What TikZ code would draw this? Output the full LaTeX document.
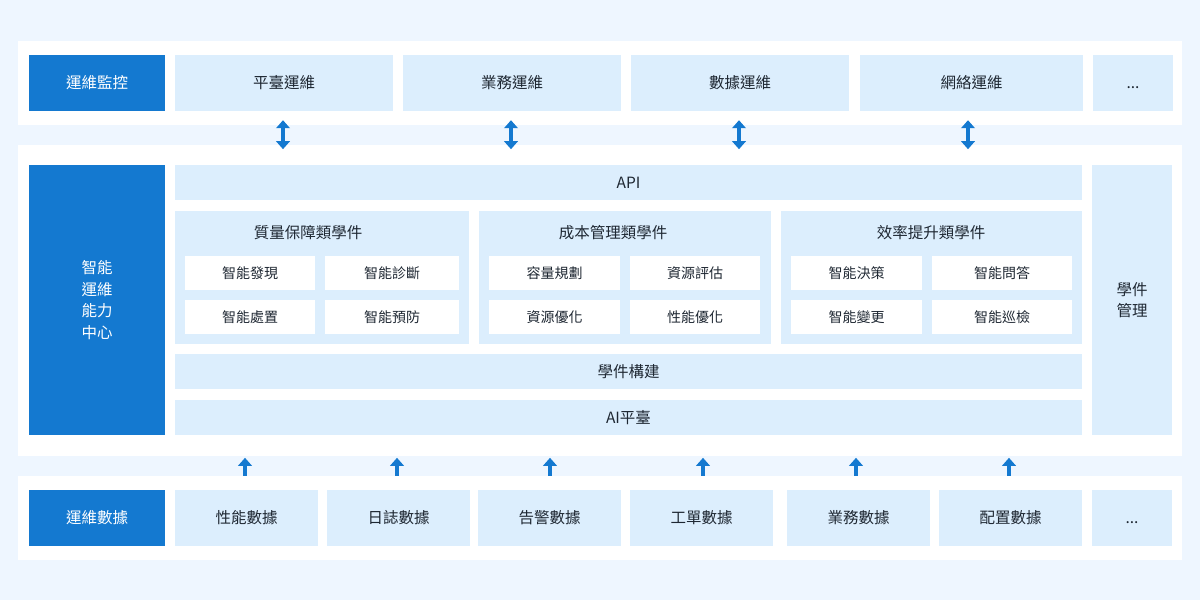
\documentclass[tikz,border=0pt]{standalone}
\usepackage{fontspec}
\setmainfont{Noto Sans CJK TC}
\usetikzlibrary{arrows.meta}
\definecolor{bgblue}{HTML}{EEF6FF}
\definecolor{deepblue}{HTML}{1479D0}
\definecolor{paleblue}{HTML}{DCEEFD}
\definecolor{inktext}{HTML}{1E2732}

\tikzset{
  panel/.style={fill=white, inner sep=0pt, minimum width=1164},
  darkbox/.style={fill=deepblue, text=white, inner sep=0pt, align=center,
    font=\fontsize{15.5}{21.5}\selectfont},
  lightbox/.style={fill=paleblue, text=inktext, inner sep=0pt, align=center,
    font=\fontsize{15.5}{21.5}\selectfont},
  whitebox/.style={fill=white, text=inktext, inner sep=0pt, minimum height=34,
    font=\fontsize{14}{16}\selectfont},
  grouptitle/.style={text=inktext, inner sep=0pt, font=\fontsize{15.5}{18}\selectfont},
  twoway/.style={deepblue, line width=3.8pt,
    {Triangle[width=13.5pt,length=8pt]}-{Triangle[width=13.5pt,length=8pt]}},
  oneway/.style={deepblue, line width=3.8pt, -{Triangle[width=13.5pt,length=8pt]}},
}
\newcommand{\moredots}{\raisebox{-5pt}[0pt][0pt]{...}}

\begin{document}
\begin{tikzpicture}[x=1pt,y=-1pt]
\fill[bgblue] (0,0) rectangle (1200,600);
\useasboundingbox (0,0) rectangle (1200,600);

% panels
\node[panel, minimum height=84] (opsPanel) at (600,83) {};
\node[panel, minimum height=311] (corePanel) at (600,300.5) {};
\node[panel, minimum height=84] (dataPanel) at (600,518) {};

% monitoring row
\node[darkbox, minimum width=136, minimum height=56] (monitor) at (97,83) {運維監控};
\node[lightbox, minimum width=218, minimum height=56] (platOps) at (284,83) {平臺運維};
\node[lightbox, minimum width=218, minimum height=56] (bizOps) at (512,83) {業務運維};
\node[lightbox, minimum width=218, minimum height=56] (dataOps) at (740,83) {數據運維};
\node[lightbox, minimum width=223, minimum height=56] (netOps) at (971.5,83) {網絡運維};
\node[lightbox, minimum width=80, minimum height=56] (moreOps) at (1133,83) {\moredots};

% core
\node[darkbox, minimum width=136, minimum height=270] (aiCenter) at (97,300) {智能\\運維\\能力\\中心};
\node[lightbox, minimum width=907, minimum height=35] (api) at (628.5,182.5) {API};
\node[lightbox, minimum width=80, minimum height=270] (wareMgmt) at (1132,300) {學件\\管理};

\node[lightbox, minimum width=294, minimum height=133] (quality) at (322,277.5) {};
\node[lightbox, minimum width=292, minimum height=133] (cost) at (625,277.5) {};
\node[lightbox, minimum width=301, minimum height=133] (effic) at (931.5,277.5) {};

\node[grouptitle] (qualityTitle) at (308,233) {質量保障類學件};
\node[grouptitle] (costTitle) at (613,233) {成本管理類學件};
\node[grouptitle] (efficTitle) at (931,233) {效率提升類學件};

\node[whitebox, minimum width=130] (discover) at (250,273) {智能發現};
\node[whitebox, minimum width=134] (diagnose) at (392,273) {智能診斷};
\node[whitebox, minimum width=130] (handle) at (250,317) {智能處置};
\node[whitebox, minimum width=134] (prevent) at (392,317) {智能預防};

\node[whitebox, minimum width=131] (capacity) at (554.5,273) {容量規劃};
\node[whitebox, minimum width=130] (assess) at (695,273) {資源評估};
\node[whitebox, minimum width=131] (resOpt) at (554.5,317) {資源優化};
\node[whitebox, minimum width=130] (perfOpt) at (695,317) {性能優化};

\node[whitebox, minimum width=131] (decide) at (856.5,273) {智能決策};
\node[whitebox, minimum width=140] (answer) at (1002,273) {智能問答};
\node[whitebox, minimum width=131] (change) at (856.5,317) {智能變更};
\node[whitebox, minimum width=140] (inspect) at (1002,317) {智能巡檢};

\node[lightbox, minimum width=907, minimum height=35] (wareBuild) at (628.5,371.5) {學件構建};
\node[lightbox, minimum width=907, minimum height=35] (aiPlat) at (628.5,417.5) {AI平臺};

% data row
\node[darkbox, minimum width=136, minimum height=56] (opsData) at (97,518) {運維數據};
\node[lightbox, minimum width=143, minimum height=56] (perfData) at (246.5,518) {性能數據};
\node[lightbox, minimum width=143, minimum height=56] (logData) at (398.5,518) {日誌數據};
\node[lightbox, minimum width=143, minimum height=56] (alarmData) at (549.5,518) {告警數據};
\node[lightbox, minimum width=143, minimum height=56] (ticketData) at (701.5,518) {工單數據};
\node[lightbox, minimum width=143, minimum height=56] (bizData) at (858.5,518) {業務數據};
\node[lightbox, minimum width=143, minimum height=56] (confData) at (1010.5,518) {配置數據};
\node[lightbox, minimum width=80, minimum height=56] (moreData) at (1132,518) {\moredots};

% arrows
\foreach \n/\dx in {platOps/-1, bizOps/-1, dataOps/-1, netOps/-3.5}
  \draw[twoway] ([xshift=\dx pt, yshift=-9pt]\n.south) -- ([xshift=\dx pt, yshift=-38pt]\n.south);

\foreach \n/\dx in {perfData/-1.5, logData/-1.5, alarmData/0.5, ticketData/1.5, bizData/-2.5, confData/-1.5}
  \draw[oneway] ([xshift=\dx pt, yshift=14pt]\n.north) -- ([xshift=\dx pt, yshift=32pt]\n.north);

\end{tikzpicture}
\end{document}
